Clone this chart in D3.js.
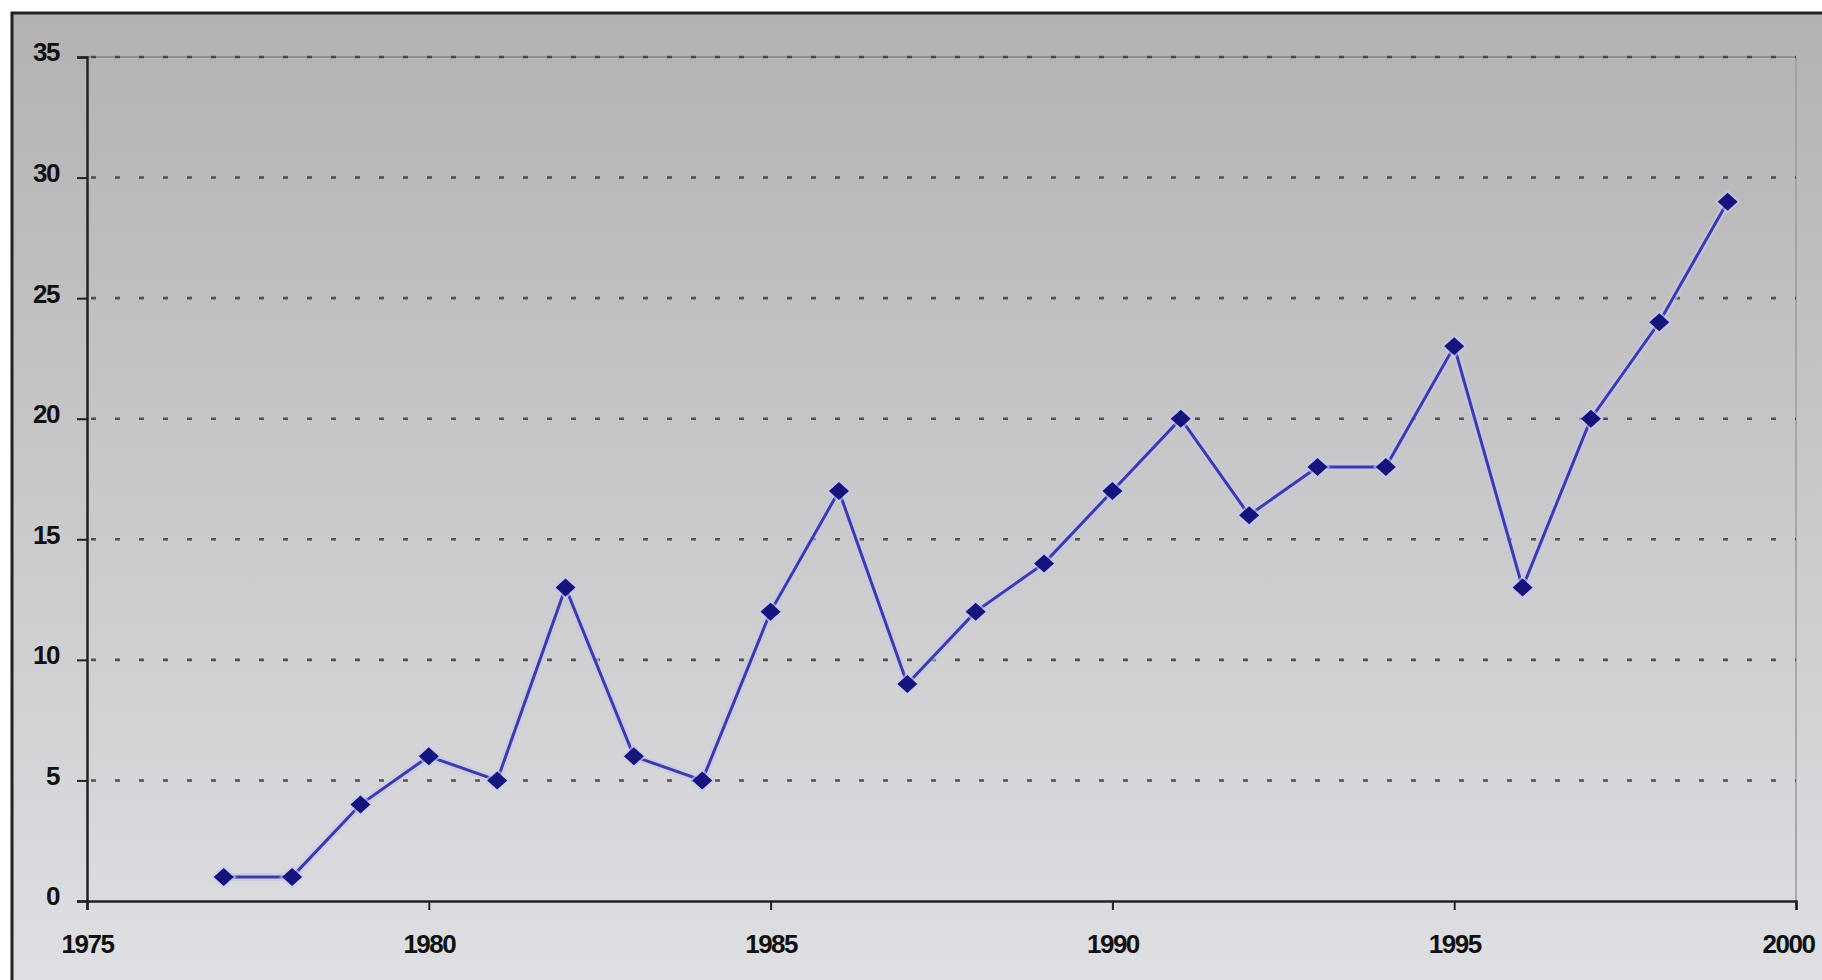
<!DOCTYPE html>
<html>
<head>
<meta charset="utf-8">
<script src="https://cdn.jsdelivr.net/npm/d3@7"></script>
<style>
  html, body { margin: 0; padding: 0; background: #ffffff; }
  svg { display: block; }
  text { font-family: "Liberation Sans", Arial, sans-serif; font-weight: bold; fill: #111; }
</style>
</head>
<body>
<svg id="chart" width="1822" height="980"></svg>
<script>
// ---- data ----
const years  = [1977, 1978, 1979, 1980, 1981, 1982, 1983, 1984, 1985, 1986, 1987, 1988,
                1989, 1990, 1991, 1992, 1993, 1994, 1995, 1996, 1997, 1998, 1999];
const values = [1, 1, 4, 6, 5, 13, 6, 5, 12, 17, 9, 12,
                14, 17, 20, 16, 18, 18, 23, 13, 20, 24, 29];
const xTicks = [1975, 1980, 1985, 1990, 1995, 2000];
const yTicks = [0, 5, 10, 15, 20, 25, 30, 35];

const svg = d3.select("#chart");
const W = 1822, H = 980;
const plot = { left: 87, right: 1796, top: 57, bottom: 901 };

const x = d3.scaleLinear().domain([1975, 2000]).range([plot.left, plot.right]);
const y = d3.scaleLinear().domain([0, 35]).range([plot.bottom, plot.top]);

// background gradient
const defs = svg.append("defs");
const grad = defs.append("linearGradient").attr("id", "bg").attr("x1", 0).attr("y1", 0).attr("x2", 0).attr("y2", 1);
grad.append("stop").attr("offset", "0%").attr("stop-color", "#b3b1b3");
grad.append("stop").attr("offset", "50%").attr("stop-color", "#c9c8cb");
grad.append("stop").attr("offset", "100%").attr("stop-color", "#dfe0e4");

svg.append("rect").attr("x", 0).attr("y", 0).attr("width", W).attr("height", H).attr("fill", "#fff");
svg.append("rect").attr("x", 12).attr("y", 13).attr("width", W).attr("height", H)
  .attr("fill", "url(#bg)").attr("stroke", "#222").attr("stroke-width", 3);

// plot-area right border
svg.append("line").attr("x1", plot.right).attr("x2", plot.right)
  .attr("y1", plot.top).attr("y2", plot.bottom).attr("stroke", "#9a9a9e").attr("stroke-width", 1.5);

// top line at 35 (thin solid)
svg.append("line").attr("x1", plot.left).attr("x2", plot.right)
  .attr("y1", y(35)).attr("y2", y(35)).attr("stroke", "#6a6a6c").attr("stroke-width", 1.2);

// gridlines
svg.append("g").selectAll("line").data(yTicks.filter(d => d > 0)).join("line")
  .attr("x1", plot.left).attr("x2", plot.right)
  .attr("y1", d => y(d)).attr("y2", d => y(d))
  .attr("stroke", "#3e3e42").attr("stroke-width", 2.6)
  .attr("stroke-dasharray", "5,19").attr("stroke-dashoffset", -4).attr("opacity", 0.85);

// y axis
const yAxis = d3.axisLeft(y).tickValues(yTicks).tickSize(10).tickFormat(d3.format("d"));
const gy = svg.append("g").attr("transform", `translate(${plot.left},0)`).call(yAxis);
gy.select(".domain").attr("stroke", "#222").attr("stroke-width", 2.5);
gy.selectAll(".tick line").attr("stroke", "#222").attr("stroke-width", 2);
gy.selectAll(".tick text")
  .attr("x", -28).attr("dy", "0.15em")
  .style("font-size", "26px").style("letter-spacing", "-1.5px")
  .attr("fill", "#111");

// x axis
const xAxis = d3.axisBottom(x).tickValues(xTicks).tickSize(9).tickFormat(d3.format("d"));
const gx = svg.append("g").attr("transform", `translate(0,${plot.bottom})`).call(xAxis);
gx.select(".domain").attr("stroke", "#222").attr("stroke-width", 2.5);
gx.selectAll(".tick line").attr("stroke", "#222").attr("stroke-width", 2);
gx.selectAll(".tick text")
  .attr("y", 43).attr("dy", "0.35em")
  .attr("dx", d => d === 2000 ? -8 : 0)
  .style("font-size", "26px").style("letter-spacing", "-1.5px")
  .attr("fill", "#111");
svg.selectAll(".domain").attr("fill", "none");

// series
const pts = years.map((yr, i) => ({ yr, v: values[i] }));
const line = d3.line().x(d => x(d.yr)).y(d => y(d.v));
svg.append("path").datum(pts).attr("d", line)
  .attr("fill", "none").attr("stroke", "#c4c4f4").attr("stroke-width", 8).attr("opacity", 0.6);
svg.append("path").datum(pts).attr("d", line)
  .attr("fill", "none").attr("stroke", "#3c3ca4").attr("stroke-width", 3);

const diamond = "M0,-9 L10,0 L0,9 L-10,0 Z";
svg.append("g").selectAll("path.halo").data(pts).join("path")
  .attr("d", "M0,-12 L13,0 L0,12 L-13,0 Z")
  .attr("transform", d => `translate(${x(d.yr)},${y(d.v)})`)
  .attr("fill", "#c8c8f6").attr("opacity", 0.6);
svg.append("g").selectAll("path.mk").data(pts).join("path")
  .attr("d", diamond)
  .attr("transform", d => `translate(${x(d.yr)},${y(d.v)})`)
  .attr("fill", "#14147c");
</script>
</body>
</html>
